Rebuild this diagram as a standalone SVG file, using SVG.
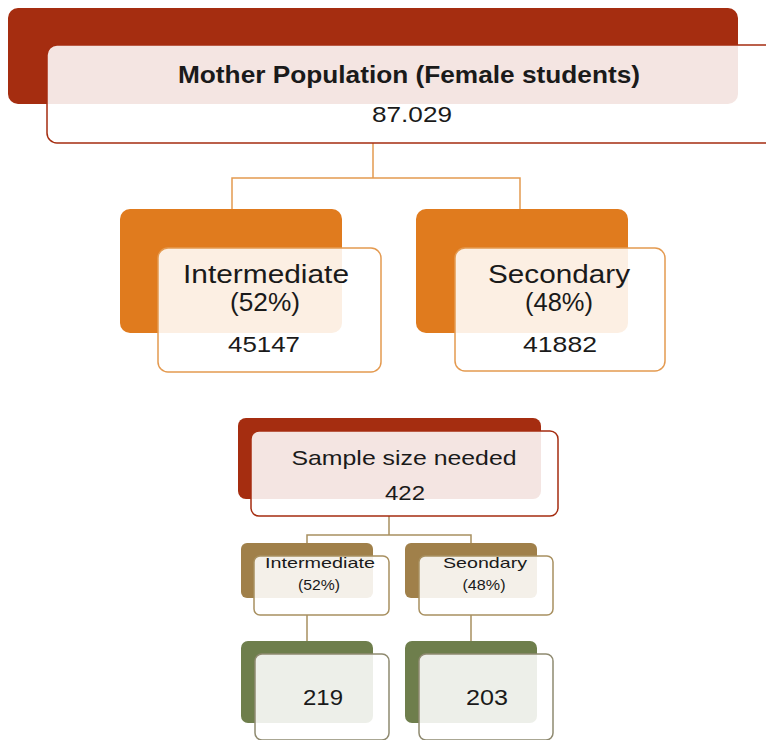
<svg xmlns="http://www.w3.org/2000/svg" width="766" height="740" viewBox="0 0 766 740">
<style>
text{font-family:"Liberation Sans","DejaVu Sans",sans-serif;fill:#1a1a1a;text-anchor:middle}
.front{fill:#ffffff;fill-opacity:0.88;stroke-width:1.5}
.red{fill:#A52D10}
.org{fill:#E07B1E}
.tan{fill:#A0804A}
.grn{fill:#6E7E4C}
.sred{stroke:#A52D10}
.sorg{stroke:#E49A50}
.stan{stroke:#A89060}
.sgrn{stroke:#8F8A70}
.conn{fill:none;stroke-width:1.5}
</style>
<rect width="766" height="740" fill="#ffffff"/>
<g id="connectors">
<path class="conn sorg" d="M373 143 V178 M232 210 V178 H520 V210"/>
<path class="conn stan" d="M389 516 V535 M307 543 V535 H471 V543"/>
<path class="conn stan" d="M307 615 V641 M471 615 V641"/>
</g>
<g id="mother">
<rect class="red" x="8" y="8" width="730" height="96" rx="10"/>
<rect class="front sred" x="47" y="45" width="740" height="98" rx="10"/>
<text x="409" y="83" font-size="23" font-weight="bold" textLength="462" lengthAdjust="spacingAndGlyphs">Mother Population (Female students)</text>
<text x="412" y="122" font-size="22" textLength="80" lengthAdjust="spacingAndGlyphs">87.029</text>
</g>
<g id="intermediate">
<rect class="org" x="120" y="209" width="222" height="124" rx="10"/>
<rect class="front sorg" x="158" y="248" width="223" height="124" rx="10"/>
<text x="266" y="283" font-size="25" textLength="166" lengthAdjust="spacingAndGlyphs">Intermediate</text>
<text x="265" y="311" font-size="25" textLength="70" lengthAdjust="spacingAndGlyphs">(52%)</text>
<text x="264" y="352" font-size="22" textLength="72" lengthAdjust="spacingAndGlyphs">45147</text>
</g>
<g id="secondary">
<rect class="org" x="416" y="209" width="212" height="124" rx="10"/>
<rect class="front sorg" x="455" y="248" width="210" height="123" rx="10"/>
<text x="559" y="283" font-size="25" textLength="142" lengthAdjust="spacingAndGlyphs">Secondary</text>
<text x="559" y="311" font-size="25" textLength="68" lengthAdjust="spacingAndGlyphs">(48%)</text>
<text x="560" y="352" font-size="22" textLength="74" lengthAdjust="spacingAndGlyphs">41882</text>
</g>
<g id="sample">
<rect class="red" x="238" y="418" width="303" height="81" rx="8"/>
<rect class="front sred" x="251" y="431" width="307" height="85" rx="8"/>
<text x="404" y="465" font-size="21" textLength="225" lengthAdjust="spacingAndGlyphs">Sample size needed</text>
<text x="405" y="500" font-size="21" textLength="40" lengthAdjust="spacingAndGlyphs">422</text>
</g>
<g id="inter-small">
<rect class="tan" x="241" y="543" width="132" height="55" rx="6"/>
<rect class="front stan" x="254" y="556" width="135" height="59" rx="6"/>
<text x="320" y="568" font-size="15" textLength="110" lengthAdjust="spacingAndGlyphs">Intermediate</text>
<text x="319" y="590" font-size="15" textLength="42" lengthAdjust="spacingAndGlyphs">(52%)</text>
</g>
<g id="sec-small">
<rect class="tan" x="405" y="543" width="132" height="55" rx="6"/>
<rect class="front stan" x="419" y="556" width="134" height="59" rx="6"/>
<text x="485" y="568" font-size="15" textLength="84" lengthAdjust="spacingAndGlyphs">Seondary</text>
<text x="484" y="590" font-size="15" textLength="43" lengthAdjust="spacingAndGlyphs">(48%)</text>
</g>
<g id="inter-count">
<rect class="grn" x="241" y="641" width="132" height="82" rx="7"/>
<rect class="front sgrn" x="255" y="654" width="134" height="86" rx="7"/>
<text x="323" y="705" font-size="22" textLength="40" lengthAdjust="spacingAndGlyphs">219</text>
</g>
<g id="sec-count">
<rect class="grn" x="405" y="641" width="132" height="82" rx="7"/>
<rect class="front sgrn" x="419" y="654" width="134" height="86" rx="7"/>
<text x="487" y="705" font-size="22" textLength="42" lengthAdjust="spacingAndGlyphs">203</text>
</g>
</svg>
